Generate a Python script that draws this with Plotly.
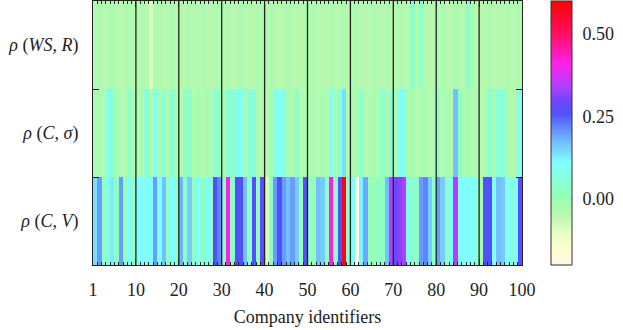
import plotly.graph_objects as go

# company ids 1..100, three correlation rows (bottom to top)
companies = list(range(1, 101))
row_labels = ["<i>ρ</i> (<i>C, V</i>)", "<i>ρ</i> (<i>C, σ</i>)", "<i>ρ</i> (<i>WS, R</i>)"]

rho_c_v = [
    0.14, 0.20, 0.03, 0.06, 0.13, 0.03, 0.20, 0.02, 0.11, 0.03,
    0.11, 0.11, 0.10, 0.11, 0.20, 0.11, 0.17, 0.03, 0.11, 0.02,
    0.18, 0.03, 0.16, 0.02, 0.10, 0.03, 0.11, 0.04, 0.26, 0.22,
    0.03, 0.41, 0.03, 0.26, 0.26, 0.17, 0.03, 0.26, 0.02, 0.27,
    -0.09, 0.03, 0.20, 0.26, 0.20, 0.17, 0.20, 0.16, 0.01, 0.27,
    0.01, 0.02, 0.17, 0.16, 0.03, 0.42, 0.03, 0.26, 0.58, 0.04,
    0.11, -0.18, 0.12, 0.19, 0.01, 0.01, 0.03, 0.02, 0.17, 0.34,
    0.29, 0.31, 0.34, 0.11, 0.04, 0.03, 0.20, 0.22, 0.16, 0.03,
    0.20, 0.16, 0.04, 0.11, 0.35, 0.11, 0.11, 0.10, 0.11, 0.05,
    -0.02, 0.26, 0.26, 0.10, 0.17, 0.16, 0.11, 0.05, 0.11, 0.27,
]

rho_c_sigma = [
    -0.03, -0.02, -0.04, 0.08, 0.06, -0.02, -0.03, -0.04, 0.03, -0.03,
    -0.04, -0.02, 0.05, -0.03, 0.09, -0.02, 0.05, -0.04, 0.04, -0.03,
    -0.04, 0.03, 0.04, -0.03, -0.02, -0.04, -0.02, -0.03, 0.06, 0.02,
    -0.03, 0.05, 0.04, 0.09, 0.10, -0.02, 0.05, 0.06, -0.03, -0.04,
    -0.03, -0.02, 0.08, 0.10, 0.08, -0.02, -0.03, 0.04, -0.04, -0.03,
    -0.03, -0.02, -0.04, -0.02, -0.03, 0.09, -0.03, 0.05, 0.14, -0.04,
    -0.03, -0.02, 0.05, -0.04, -0.03, -0.02, -0.03, 0.04, -0.03, 0.05,
    -0.02, 0.09, 0.10, -0.03, -0.02, -0.04, -0.03, -0.02, -0.04, -0.03,
    0.04, -0.03, -0.02, -0.04, 0.17, 0.03, -0.03, -0.02, -0.04, -0.03,
    -0.04, -0.03, 0.05, -0.02, 0.06, 0.05, -0.03, -0.04, -0.02, 0.10,
]

rho_ws_r = [
    -0.04, -0.03, -0.05, -0.04, -0.03, -0.04, -0.05, -0.04, -0.03, -0.04,
    -0.04, -0.03, -0.04, -0.09, -0.04, -0.03, -0.05, -0.04, -0.03, -0.04,
    -0.04, -0.05, -0.03, -0.04, -0.04, -0.03, -0.05, -0.04, -0.04, -0.03,
    -0.04, -0.03, -0.05, -0.04, -0.03, -0.04, -0.04, -0.05, -0.03, -0.04,
    -0.04, -0.03, -0.04, -0.05, -0.04, -0.03, -0.04, -0.04, -0.05, -0.03,
    -0.04, -0.03, -0.04, -0.04, -0.05, -0.03, -0.04, -0.04, -0.03, -0.05,
    -0.04, -0.03, -0.04, -0.05, -0.04, -0.03, -0.04, -0.04, -0.03, -0.05,
    -0.04, -0.03, -0.04, -0.04, 0.03, -0.03, 0.04, -0.04, -0.05, -0.04,
    -0.04, -0.03, -0.05, -0.04, -0.03, -0.04, -0.04, 0.03, -0.03, -0.04,
    -0.05, -0.04, -0.03, -0.04, -0.04, -0.05, -0.03, -0.04, -0.04, -0.03,
]

x_tick_vals = [0, 10, 20, 30, 40, 50, 60, 70, 80, 90, 100]
x_tick_text = ["1", "10", "20", "30", "40", "50", "60", "70", "80", "90", "100"]
cbar_vals = [0.0, 0.25, 0.5]
cbar_text = ["0.00", "0.25", "0.50"]

zmin, zmax = -0.2, 0.6
stops = [
    (-0.20, "#fff6e6"), (-0.15, "#ffffd0"), (-0.10, "#e4ffc0"), (-0.05, "#baf8b0"),
    (0.00, "#98ffb0"), (0.06, "#88ffdc"), (0.11, "#80ffff"), (0.17, "#74c0ff"),
    (0.21, "#6490ff"), (0.26, "#5050ff"), (0.30, "#7444ff"), (0.34, "#b040ff"),
    (0.41, "#ff20e8"), (0.50, "#ff1060"), (0.60, "#ff0000"),
]
colorscale = [[(v - zmin) / (zmax - zmin), c] for v, c in stops]

serif = "Liberation Serif, DejaVu Serif, serif"
cb_x = 1.0686        # colour bar left edge, in paper units
cb_w = 21 / 429      # colour bar width, in paper units

fig = go.Figure(go.Heatmap(
    x=[c - 0.5 for c in companies],
    y=[0, 1, 2],
    z=[rho_c_v, rho_c_sigma, rho_ws_r],
    zmin=zmin, zmax=zmax,
    colorscale=colorscale,
    colorbar=dict(
        x=cb_x, xanchor="left", xpad=0, y=0.5, yanchor="middle", ypad=0,
        len=1, lenmode="fraction",
        thickness=21, outlinecolor="#333", outlinewidth=1,
        tickvals=cbar_vals, ticktext=cbar_text,
        ticks="outside", ticklen=7, tickcolor="rgba(0,0,0,0)",
        tickfont=dict(family=serif, size=18, color="#222"),
    ),
))

# decade separators
shapes = []
for k in range(10, 100, 10):
    shapes.append(dict(type="line", xref="x", yref="y domain", x0=k, x1=k, y0=0, y1=1,
                       line=dict(color="#222", width=1.3)))
# small ticks inside both edges of the colour bar
for v in cbar_vals:
    yy = (v - zmin) / (zmax - zmin)
    for xa, xb in [(cb_x, cb_x + 6 / 429), (cb_x + cb_w - 6 / 429, cb_x + cb_w)]:
        shapes.append(dict(type="line", xref="paper", yref="y domain", x0=xa, x1=xb,
                           y0=yy, y1=yy, line=dict(color="#444", width=1)))

fig.update_layout(
    width=623, height=330,
    margin=dict(l=93, r=101, t=1, b=65, autoexpand=False),
    paper_bgcolor="white", plot_bgcolor="white",
    font=dict(family=serif, size=18, color="#222"),
    shapes=shapes,
    xaxis=dict(
        range=[0, 100], tickvals=x_tick_vals, ticktext=x_tick_text,
        ticks="inside", ticklen=6, tickcolor="#222", mirror="allticks",
        showline=True, linecolor="#222", linewidth=1, showgrid=False, zeroline=False,
        minor=dict(dtick=1, tick0=0, ticks="inside", ticklen=3, tickcolor="#222", showgrid=False),
        title=dict(text="Company identifiers", font=dict(size=18), standoff=11),
        ticklabelstandoff=8,
        automargin=False, layer="above traces",
    ),
    yaxis=dict(
        range=[-0.5, 2.5], tickvals=[0, 1, 2], ticktext=row_labels, ticks="",
        showline=True, linecolor="#222", linewidth=1, mirror="allticks",
        showgrid=False, zeroline=False, ticklabelstandoff=10,
        minor=dict(tickmode="array", tickvals=[0.5, 1.5], ticks="inside", ticklen=6,
                   tickcolor="#222", showgrid=False),
        automargin=False, layer="above traces",
    ),
)

fig.write_html("out.html", config={"displayModeBar": False},
               post_script="document.body.style.margin='0';")
